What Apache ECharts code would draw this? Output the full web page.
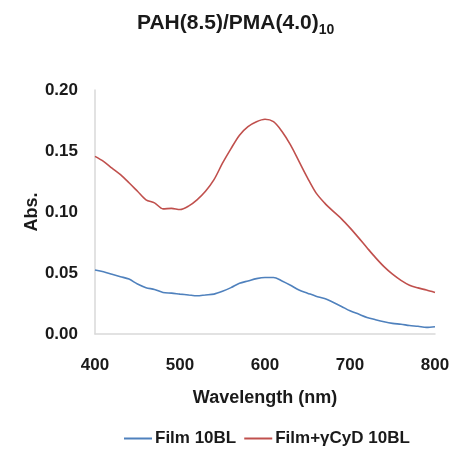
<!DOCTYPE html>
<html><head><meta charset="utf-8">
<script src="https://cdn.jsdelivr.net/npm/echarts@6/dist/echarts.min.js"></script>
<style>html,body{margin:0;padding:0;background:#fff}#c{width:460px;height:460px}</style>
</head><body><div id="c"></div>
<script>
var wavelengths = [400,410,420,430,440,450,460,470,480,490,500,510,520,530,540,550,560,570,580,590,600,610,620,630,640,650,660,670,680,690,700,710,720,730,740,750,760,770,780,790,800];
var film10BL = [0.0525,0.051,0.049,0.047,0.045,0.041,0.038,0.0365,0.034,0.0335,0.0327,0.032,0.0313,0.032,0.0327,0.035,0.038,0.0416,0.0435,0.0454,0.0463,0.0463,0.0435,0.040,0.036,0.0335,0.031,0.029,0.026,0.0226,0.019,0.0163,0.0136,0.0117,0.010,0.0087,0.008,0.007,0.0063,0.0054,0.006];
var filmCyD10BL = [0.1456,0.1415,0.136,0.1306,0.124,0.117,0.110,0.1075,0.1026,0.103,0.102,0.1048,0.110,0.117,0.1265,0.140,0.152,0.163,0.170,0.174,0.176,0.174,0.166,0.155,0.1415,0.128,0.1157,0.1075,0.1007,0.0944,0.087,0.079,0.0707,0.0626,0.0552,0.049,0.044,0.040,0.0378,0.036,0.034];
var seriesNames = ['Film 10BL', 'Film+\u03b3CyD 10BL'];
var xTicks = [400,500,600,700,800];

function pairs(xs, ys){ return xs.map(function(x,i){ return [x, ys[i]]; }); }
var font = 'Liberation Sans, Arial, sans-serif';
var ink = '#1a1a1a';
var chart = echarts.init(document.getElementById('c'));
chart.setOption({
  animation: false,
  backgroundColor: '#fff',
  title: {
    text: '{m|PAH(8.5)/PMA(4.0)}{s|10}',
    left: 132, top: 5,
    textStyle: { rich: {
      m: { fontFamily: font, fontWeight: 'bold', fontSize: 21, color: ink },
      s: { fontFamily: font, fontWeight: 'bold', fontSize: 14, color: ink, verticalAlign: 'bottom', padding: [13,0,0,0] }
    } }
  },
  grid: { left: 95, right: 25, top: 90, bottom: 126 },
  legend: {
    bottom: 8, left: 119, itemWidth: 28, itemHeight: 2, itemGap: 8,
    icon: 'rect',
    textStyle: { fontFamily: font, fontWeight: 'bold', fontSize: 17, color: ink, padding: [0,0,0,-2] },
    data: seriesNames
  },
  xAxis: {
    type: 'value', min: 400, max: 800, interval: 100,
    name: 'Wavelength (nm)', nameLocation: 'middle', nameGap: 55, nameMoveOverlap: false,
    nameTextStyle: { fontFamily: font, fontWeight: 'bold', fontSize: 18, color: ink },
    axisLine: { lineStyle: { color: '#d9d9d9', width: 1.5 } },
    axisTick: { show: false },
    splitLine: { show: false },
    axisLabel: { margin: 23, fontFamily: font, fontWeight: 'bold', fontSize: 17, color: ink,
      customValues: xTicks }
  },
  yAxis: {
    type: 'value', min: 0, max: 0.2, interval: 0.05,
    name: 'Abs.', nameLocation: 'middle', nameGap: 54, nameMoveOverlap: false,
    nameTextStyle: { fontFamily: font, fontWeight: 'bold', fontSize: 18, color: ink },
    axisLine: { show: true, lineStyle: { color: '#d9d9d9', width: 1.5 } },
    axisTick: { show: false },
    splitLine: { show: false },
    axisLabel: { margin: 17, fontFamily: font, fontWeight: 'bold', fontSize: 17, color: ink,
      formatter: function(v){ return v.toFixed(2); } }
  },
  series: [
    { name: seriesNames[0], type: 'line', data: pairs(wavelengths, film10BL), showSymbol: false, smooth: 0.3,
      lineStyle: { color: '#4F81BD', width: 1.6 }, itemStyle: { color: '#4F81BD' } },
    { name: seriesNames[1], type: 'line', data: pairs(wavelengths, filmCyD10BL), showSymbol: false, smooth: 0.3,
      lineStyle: { color: '#C0504D', width: 1.6 }, itemStyle: { color: '#C0504D' } }
  ]
});
</script></body></html>
